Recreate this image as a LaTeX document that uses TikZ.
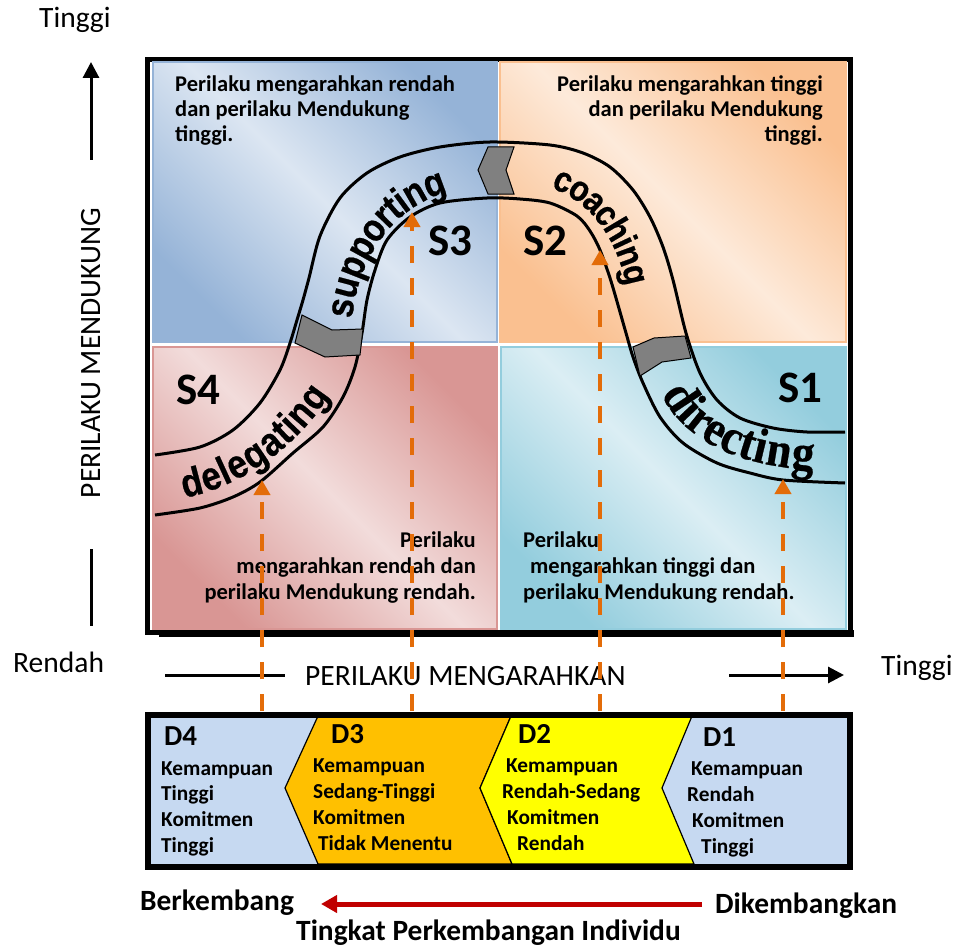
\documentclass[tikz,border=0pt]{standalone}
\usepackage{fontspec}
\setmainfont{Carlito}
\newfontfamily\bandsans{Liberation Sans}[BoldFeatures={FakeStretch=0.87,FakeBold=0.6}]
\newfontfamily\bandserif{Liberation Serif}[BoldFeatures={FakeStretch=0.9,FakeBold=0.5}]
\usetikzlibrary{arrows.meta}
\definecolor{tlD}{HTML}{95B3D7}\definecolor{tlL}{HTML}{DCE6F2}
\definecolor{trD}{HTML}{FAC090}\definecolor{trL}{HTML}{FDEADA}
\definecolor{blD}{HTML}{D99694}\definecolor{blL}{HTML}{F2DCDB}
\definecolor{brD}{HTML}{93CDDD}\definecolor{brL}{HTML}{DBEEF4}
\definecolor{arrorange}{HTML}{E36C09}
\definecolor{arrred}{HTML}{C00000}
\definecolor{chevgray}{HTML}{808080}
\definecolor{dblue}{HTML}{C6D9F1}
\definecolor{dorange}{HTML}{FFC000}
\definecolor{dyellow}{HTML}{FFFF00}
\begin{document}
\begin{tikzpicture}[x=1pt,y=-1pt,
  axislbl/.style={font=\fontsize{29.5}{31}\selectfont, inner sep=0pt},
  qtext/.style={font=\bfseries\fontsize{22.5}{25}\selectfont, inner sep=0pt},
  slbl/.style={font=\bfseries\fontsize{45}{45}\selectfont, inner sep=0pt},
  dhead/.style={font=\bfseries\fontsize{29}{29}\selectfont, inner sep=0pt},
  dtext/.style={font=\bfseries\fontsize{21.3}{22}\selectfont, inner sep=0pt},
  botlbl/.style={font=\bfseries\fontsize{29.4}{31}\selectfont, inner sep=0pt},
  quad/.style 2 args={top color=#1, bottom color=#1, middle color=#2, shading angle=-45, draw=#1, line width=1.2pt},
  bandline/.style={line width=3pt},
  chev/.style={fill=chevgray, draw=black, line width=1pt},
  devarrow/.style={draw=arrorange, line width=4pt, dash pattern=on 17pt off 15pt, -{Triangle[length=15pt,width=16pt]}},
  axarrow/.style={line width=3pt, -{Triangle[length=16pt,width=16pt]}},
  bch/.style={sloped, allow upside down, anchor=base, inner sep=0pt, font=\bandsans\bfseries\fontsize{#1}{#1}\selectfont},
  bchs/.style={sloped, allow upside down, anchor=base, inner sep=0pt, font=\bandserif\bfseries\fontsize{#1}{#1}\selectfont}
]
\useasboundingbox (0,0) rectangle (953,947);
\fill[white] (0,0) rectangle (953,947);

% main frame
\fill[black] (159,630) rectangle (854,637);
\draw[line width=5pt, fill=white] (147.5,59.5) rectangle (850.5,632);

% quadrants
\shade[quad={tlD}{tlL}] (153,62) rectangle (497,342);
\shade[quad={trD}{trL}] (500,62) rectangle (846,342);
\shade[quad={blD}{blL}] (153,347) rectangle (497,629);
\shade[quad={brD}{brL}] (501,347) rectangle (846,629);

% quadrant texts
\node[qtext, anchor=base west] (tl1) at (175,92) {Perilaku mengarahkan rendah};
\node[qtext, anchor=base west] (tl2) at (175,117) {dan perilaku Mendukung};
\node[qtext, anchor=base west] (tl3) at (175,142) {tinggi.};
\node[qtext, anchor=base east] (tr1) at (823,92) {Perilaku mengarahkan tinggi};
\node[qtext, anchor=base east] (tr2) at (823,117) {dan perilaku Mendukung};
\node[qtext, anchor=base east] (tr3) at (823,142) {tinggi.};
\node[qtext, anchor=base east] (bl1) at (476,547) {Perilaku};
\node[qtext, anchor=base east] (bl2) at (476,573) {mengarahkan rendah dan};
\node[qtext, anchor=base east] (bl3) at (476,599) {perilaku Mendukung rendah.};
\node[qtext, anchor=base west] (br1) at (523,547) {Perilaku};
\node[qtext, anchor=base west] (br2) at (530,573) {mengarahkan tinggi dan};
\node[qtext, anchor=base west] (br3) at (523,599) {perilaku Mendukung rendah.};

% S labels
\node[slbl, anchor=base west] (s3) at (428,255) {S3};
\node[slbl, anchor=base west] (s2) at (523,255) {S2};
\node[slbl, anchor=base west] (s4) at (176,404) {S4};
\node[slbl, anchor=base west] (s1) at (778,402) {S1};

% band
\draw[bandline] plot[smooth] coordinates {(155,455) (200,447) (233,430) (260,403) (280,370) (290,343) (297,320) (303,300) (309,278) (320,236) (340,198) (367,173) (400,157) (440,147) (490,142) (550,145) (583,153) (610,167) (633,190) (650,217) (663,247) (673,280) (686,333) (700,373) (717,400) (740,418) (773,428) (807,432) (845,432)};
\draw[bandline] plot[smooth] coordinates {(155,515) (200,508) (233,497) (260,482) (293,453) (323,427) (343,397) (355,367) (362,333) (367,300) (375,270) (387,240) (410,217) (440,203) (487,198) (520,199) (550,203) (577,216) (590,231) (600,250) (610,278) (618,305) (626,333) (633,357) (643,383) (660,417) (683,443) (717,463) (750,473) (783,480) (845,483)};

% chevrons on band
\filldraw[chev] (488,147) -- (514,147) -- (506,170) -- (514,194) -- (488,194) -- (478,170) -- cycle;
\filldraw[chev] (302,315) -- (332,330) -- (363,329) -- (360,355) -- (325,357) -- (295,343) -- cycle;
\filldraw[chev] (633,347) -- (654,338) -- (685,336) -- (691,358) -- (662,362) -- (640,376) -- cycle;

% band texts (one node per letter along a curved baseline)
\path (352,319) .. controls (358,259) and (391,208) .. (448,192)
  node[bch=39, pos=.0532] (sp1) {s} node[bch=39, pos=.165] (sp2) {u}
  node[bch=39, pos=.282] (sp3) {p} node[bch=39, pos=.399] (sp4) {p}
  node[bch=39, pos=.516] (sp5) {o} node[bch=39, pos=.612] (sp6) {r}
  node[bch=39, pos=.681] (sp7) {t} node[bch=39, pos=.739] (sp8) {i}
  node[bch=39, pos=.824] (sp9) {n} node[bch=39, pos=.9415] (sp10) {g};
\path (551,188) .. controls (593,202) and (618,243) .. (626,286)
  node[bch=36, pos=.0633] (co1) {c} node[bch=36, pos=.1962] (co2) {o}
  node[bch=36, pos=.3292] (co3) {a} node[bch=36, pos=.4558] (co4) {c}
  node[bch=36, pos=.5887] (co5) {h} node[bch=36, pos=.690] (co6) {i}
  node[bch=36, pos=.7912] (co7) {n} node[bch=36, pos=.9304] (co8) {g};
\path (184,498) .. controls (244,486) and (297,446) .. (330,395)
  node[bch=40, pos=.0611] (de1) {d} node[bch=40, pos=.1778] (de2) {e}
  node[bch=40, pos=.2611] (de3) {l} node[bch=40, pos=.3445] (de4) {e}
  node[bch=40, pos=.4612] (de5) {g} node[bch=40, pos=.5779] (de6) {a}
  node[bch=40, pos=.6668] (de7) {t} node[bch=40, pos=.7279] (de8) {i}
  node[bch=40, pos=.8167] (de9) {n} node[bch=40, pos=.9389] (de10) {g};
\path (661,394) .. controls (689,449) and (753,467) .. (814,470)
  node[bchs=50, pos=.0725] (di1) {d} node[bchs=50, pos=.1813] (di2) {i}
  node[bchs=50, pos=.2755] (di3) {r} node[bchs=50, pos=.3913] (di4) {e}
  node[bchs=50, pos=.5072] (di5) {c} node[bchs=50, pos=.6085] (di6) {t}
  node[bchs=50, pos=.6882] (di7) {i} node[bchs=50, pos=.797] (di8) {n}
  node[bchs=50, pos=.9348] (di9) {g};

% axes
\coordinate (upS) at (91,160); \coordinate (upE) at (91,62);
\draw[axarrow] (upS) -- (upE);
\coordinate (vlA) at (91,549); \coordinate (vlB) at (91,626);
\draw[line width=3pt] (vlA) -- (vlB);
\coordinate (hlA) at (165,675); \coordinate (hlB) at (285,675);
\draw[line width=3pt] (hlA) -- (hlB);
\coordinate (rtS) at (729,675); \coordinate (rtE) at (844,675);
\draw[axarrow] (rtS) -- (rtE);
\node[axislbl, anchor=base west] (ytop) at (39,28) {Tinggi};
\node[axislbl, anchor=base west] (ylow) at (13,672) {Rendah};
\node[axislbl, anchor=base west] (xhigh) at (881,675) {Tinggi};
\node[axislbl, anchor=base, rotate=90] (ylab) at (100,353) {PERILAKU MENDUKUNG};
\node[axislbl, anchor=base west] (xlab) at (305,685) {PERILAKU MENGARAHKAN};

% D box
\fill[dblue] (148,715) rectangle (850,867);
\filldraw[fill=dorange, draw=black, line width=1.2pt] (318,716) -- (511,716) -- (480,788) -- (512,864) -- (318,864) -- (285,788) -- cycle;
\filldraw[fill=dyellow, draw=black, line width=1.2pt] (511,716) -- (692,716) -- (662,788) -- (694,864) -- (512,864) -- (480,788) -- cycle;
\draw[line width=6pt] (148,715) rectangle (850,867);

\node[dhead, anchor=base west] (d4) at (164,745) {D4};
\node[dtext, anchor=base west] (d4a) at (161,775) {Kemampuan};
\node[dtext, anchor=base west] (d4b) at (161,800) {Tinggi};
\node[dtext, anchor=base west] (d4c) at (161,826) {Komitmen};
\node[dtext, anchor=base west] (d4d) at (161,852) {Tinggi};
\node[dhead, anchor=base west] (d3) at (331,743) {D3};
\node[dtext, anchor=base west] (d3a) at (313,772) {Kemampuan};
\node[dtext, anchor=base west] (d3b) at (313,798) {Sedang-Tinggi};
\node[dtext, anchor=base west] (d3c) at (313,824) {Komitmen};
\node[dtext, anchor=base west] (d3d) at (318,850) {Tidak Menentu};
\node[dhead, anchor=base west] (d2) at (518,743) {D2};
\node[dtext, anchor=base west] (d2a) at (506,772) {Kemampuan};
\node[dtext, anchor=base west] (d2b) at (502,798) {Rendah-Sedang};
\node[dtext, anchor=base west] (d2c) at (507,824) {Komitmen};
\node[dtext, anchor=base west] (d2d) at (517,850) {Rendah};
\node[dhead, anchor=base west] (d1) at (703,746) {D1};
\node[dtext, anchor=base west] (d1a) at (691,775) {Kemampuan};
\node[dtext, anchor=base west] (d1b) at (687,801) {Rendah};
\node[dtext, anchor=base west] (d1c) at (692,827) {Komitmen};
\node[dtext, anchor=base west] (d1d) at (701,853) {Tinggi};

% orange development arrows
\coordinate (a4s) at (262,711); \coordinate (a4e) at (262,480);
\coordinate (a3s) at (412,711); \coordinate (a3e) at (412,212);
\coordinate (a2s) at (600,711); \coordinate (a2e) at (600,250);
\coordinate (a1s) at (783,711); \coordinate (a1e) at (783,479);
\draw[devarrow] (a4s) -- (a4e);
\draw[devarrow] (a3s) -- (a3e);
\draw[devarrow] (a2s) -- (a2e);
\draw[devarrow] (a1s) -- (a1e);

% bottom
\node[botlbl, anchor=base west] (berk) at (140,910) {Berkembang};
\node[botlbl, anchor=base west] (dike) at (715,913) {Dikembangkan};
\node[botlbl, anchor=base west] (tpi) at (296,940) {Tingkat Perkembangan Individu};
\coordinate (raS) at (702,904); \coordinate (raE) at (321,904);
\draw[draw=arrred, line width=5pt, -{Triangle[length=16pt,width=17pt]}] (raS) -- (raE);
\end{tikzpicture}
\end{document}
